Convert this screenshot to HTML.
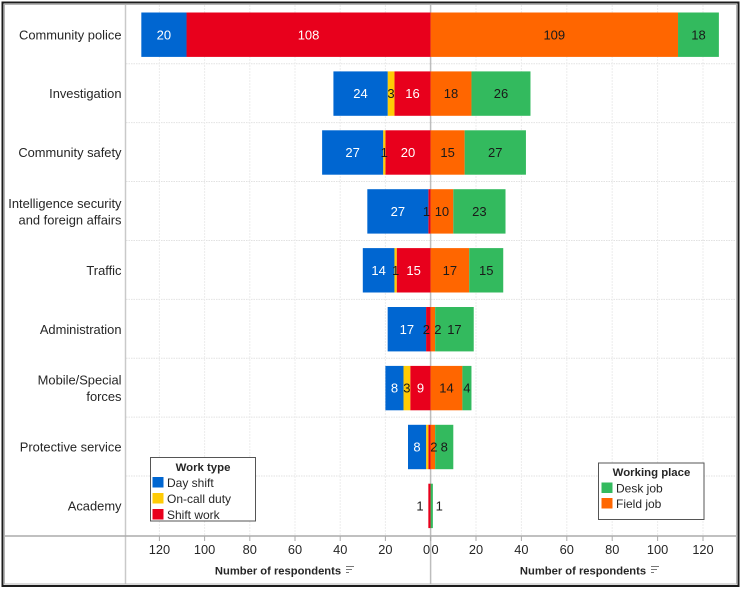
<!DOCTYPE html>
<html lang="en">
<head>
<meta charset="utf-8">
<title>Respondents by work type and working place</title>
<style>
html,body{margin:0;padding:0;background:#fff;}
body{width:741px;height:589px;overflow:hidden;}
svg{display:block;font-family:"Liberation Sans","DejaVu Sans",sans-serif;}
text{fill:#262626;}
</style>
</head>
<body>
<svg id="chart" width="741" height="589" viewBox="0 0 741 589" xmlns="http://www.w3.org/2000/svg">
  <rect x="0" y="0" width="741" height="589" fill="#fff"/>
  <g id="grid"></g>
  <g id="bars"></g>
  <g id="labels"></g>
  <g id="cats"></g>
  <g id="axis"></g>

  <text x="278" y="574.5" text-anchor="middle" font-size="11.2" font-weight="bold">Number of respondents</text>
  <g stroke="#777" stroke-width="1">
    <line x1="346" y1="566.5" x2="354" y2="566.5"/>
    <line x1="346" y1="569.5" x2="352" y2="569.5"/>
    <line x1="346" y1="572.5" x2="349" y2="572.5"/>
  </g>
  <text x="583" y="574.5" text-anchor="middle" font-size="11.2" font-weight="bold">Number of respondents</text>
  <g stroke="#777" stroke-width="1">
    <line x1="651" y1="566.5" x2="659" y2="566.5"/>
    <line x1="651" y1="569.5" x2="657" y2="569.5"/>
    <line x1="651" y1="572.5" x2="654" y2="572.5"/>
  </g>

  <g>
    <rect x="150.5" y="457.5" width="105" height="63.5" fill="#fff" stroke="#555" stroke-width="1"/>
    <text x="203" y="471" text-anchor="middle" font-size="11.4" font-weight="bold">Work type</text>
    <rect x="152.5" y="477" width="11" height="10.5" fill="#0066d1"/>
    <text x="167" y="487" font-size="12">Day shift</text>
    <rect x="152.5" y="493" width="11" height="10.5" fill="#ffcb05"/>
    <text x="167" y="503" font-size="12">On-call duty</text>
    <rect x="152.5" y="509" width="11" height="10.5" fill="#e8001c"/>
    <text x="167" y="519" font-size="12">Shift work</text>
  </g>
  <g>
    <rect x="598.5" y="463" width="105.5" height="56.5" fill="#fff" stroke="#555" stroke-width="1"/>
    <text x="651.5" y="476" text-anchor="middle" font-size="11.4" font-weight="bold">Working place</text>
    <rect x="601.5" y="482.5" width="11" height="10.5" fill="#33ba5e"/>
    <text x="616" y="492.5" font-size="12">Desk job</text>
    <rect x="601.5" y="498" width="11" height="10.5" fill="#ff6600"/>
    <text x="616" y="508" font-size="12">Field job</text>
  </g>

  <rect x="2.5" y="2.5" width="736" height="583.5" fill="none" stroke="#1c1c1c" stroke-width="2"/>
  <rect x="4.5" y="4.5" width="732" height="579.5" fill="none" stroke="#b5b5b5" stroke-width="1"/>
</svg>
<script>
const categories = ["Community police","Investigation","Community safety","Intelligence security|and foreign affairs","Traffic","Administration","Mobile/Special|forces","Protective service","Academy"];
const dayShift = [20,24,27,27,14,17,8,8,0];
const onCallDuty = [0,3,1,0,1,0,3,1,0];
const shiftWork = [108,16,20,1,15,2,9,1,1];
const fieldJob = [109,18,15,10,17,2,14,2,0];
const deskJob = [18,26,27,23,15,17,4,8,1];
const leftTicks = [120,100,80,60,40,20,0];
const rightTicks = [0,20,40,60,80,100,120];

const NS = "http://www.w3.org/2000/svg";
const ZERO = 430.6;
const xLeft = v => ZERO - v * 2.26;
const xRight = v => ZERO + v * 2.27;
const ROW_TOP = 5.25, ROW_STEP = 58.9, BAR_H = 44.4;
const rowCenter = i => ROW_TOP + ROW_STEP * (i + 0.5);

function mk(tag, attrs, parent) {
  const el = document.createElementNS(NS, tag);
  for (const k in attrs) el.setAttribute(k, attrs[k]);
  parent.appendChild(el);
  return el;
}
const grid = document.getElementById("grid");
const bars = document.getElementById("bars");
const labels = document.getElementById("labels");
const cats = document.getElementById("cats");
const axis = document.getElementById("axis");

// horizontal row separators
categories.forEach((c, i) => {
  if (i === categories.length - 1) return;
  const y = ROW_TOP + ROW_STEP * (i + 1) - 0.4;
  const l = mk("line", {x1:126, x2:735, y1:y, y2:y, stroke:"#e2e2e2", "stroke-width":1, "stroke-dasharray":"1.5 1"}, grid);
  
  
});

// vertical gridlines and axis ticks
function drawTicks(ticks, scale, side) {
  ticks.forEach(t => {
    const x = scale(t);
    if (t !== 0) {
      const g = mk("line", {x1:x, x2:x, y1:5, y2:536, stroke:"#ececec", "stroke-width":1, "stroke-dasharray":"2 1"}, grid);
      
      
    }
    const m = mk("line", {x1:x, x2:x, y1:536, y2:541, stroke:"#aaa", "stroke-width":1}, axis);
    
    
    const nudge = t === 0 ? (side === "left" ? -4 : 4.5) : 0;
    const txt = mk("text", {x:x + nudge, y:554, "text-anchor":"middle", "font-size":12.8}, axis);
    
    
    txt.textContent = t;
  });
}
drawTicks(leftTicks, xLeft, "left");
drawTicks(rightTicks, xRight, "right");

// structural lines
const ctr = mk("line", {x1:430.6, x2:430.6, y1:5, y2:584, stroke:"#bdbdbd", "stroke-width":1.5}, grid);


const colLine = mk("line", {x1:125.5, x2:125.5, y1:5, y2:584, stroke:"#c9c9c9", "stroke-width":1.5}, axis);


const axLine = mk("line", {x1:5, x2:736, y1:536, y2:536, stroke:"#ababab", "stroke-width":1.5}, axis);



// category labels
categories.forEach((c, i) => {
  const parts = c.split("|");
  parts.forEach((p, j) => {
    const y = rowCenter(i) + 4.6 + (j - (parts.length - 1) / 2) * 16.5;
    const t = mk("text", {x:121.5, y:y, "text-anchor":"end", "font-size":12.9}, cats);
    
    
    t.textContent = p;
  });
});

const COLORS = {day:"#0066d1", call:"#ffcb05", shift:"#e8001c", field:"#ff6600", desk:"#33ba5e"};

// label nudges (px) for narrow segments: "row:series"
const labelNudge = {"3:shift":-3, "5:shift":-2, "5:field":5, "8:shift":-9.5, "8:desk":7.5, "7:field":1};
// labels that the source chart leaves out
const hiddenLabel = {"7:call":true, "7:shift":true};

function drawSegment(i, key, value, x0, x1) {
  if (!value) return;
  const r = mk("rect", {x:Math.min(x0,x1), y:rowCenter(i) - BAR_H/2, width:Math.abs(x1-x0), height:BAR_H, fill:COLORS[key]}, bars);
  
  
  if (hiddenLabel[i + ":" + key]) return;
  const dx = labelNudge[i + ":" + key] || 0;
  const light = (key === "day" || key === "shift") && value >= 8;
  const t = mk("text", {x:(x0+x1)/2 + dx, y:rowCenter(i) + 4.6, "text-anchor":"middle", "font-size":13}, labels);
  
  
  t.style.fill = light ? "#ffffff" : "#1a1a1a";
  t.textContent = value;
}

categories.forEach((c, i) => {
  // left stack, reading outward from zero: shift, on-call, day
  let a = 0;
  [["shift", shiftWork[i]], ["call", onCallDuty[i]], ["day", dayShift[i]]].forEach(([k, v]) => {
    drawSegment(i, k, v, xLeft(a), xLeft(a + v));
    a += v;
  });
  // right stack, reading outward from zero: field, desk
  let b = 0;
  [["field", fieldJob[i]], ["desk", deskJob[i]]].forEach(([k, v]) => {
    drawSegment(i, k, v, xRight(b), xRight(b + v));
    b += v;
  });
});
</script>
</body>
</html>
